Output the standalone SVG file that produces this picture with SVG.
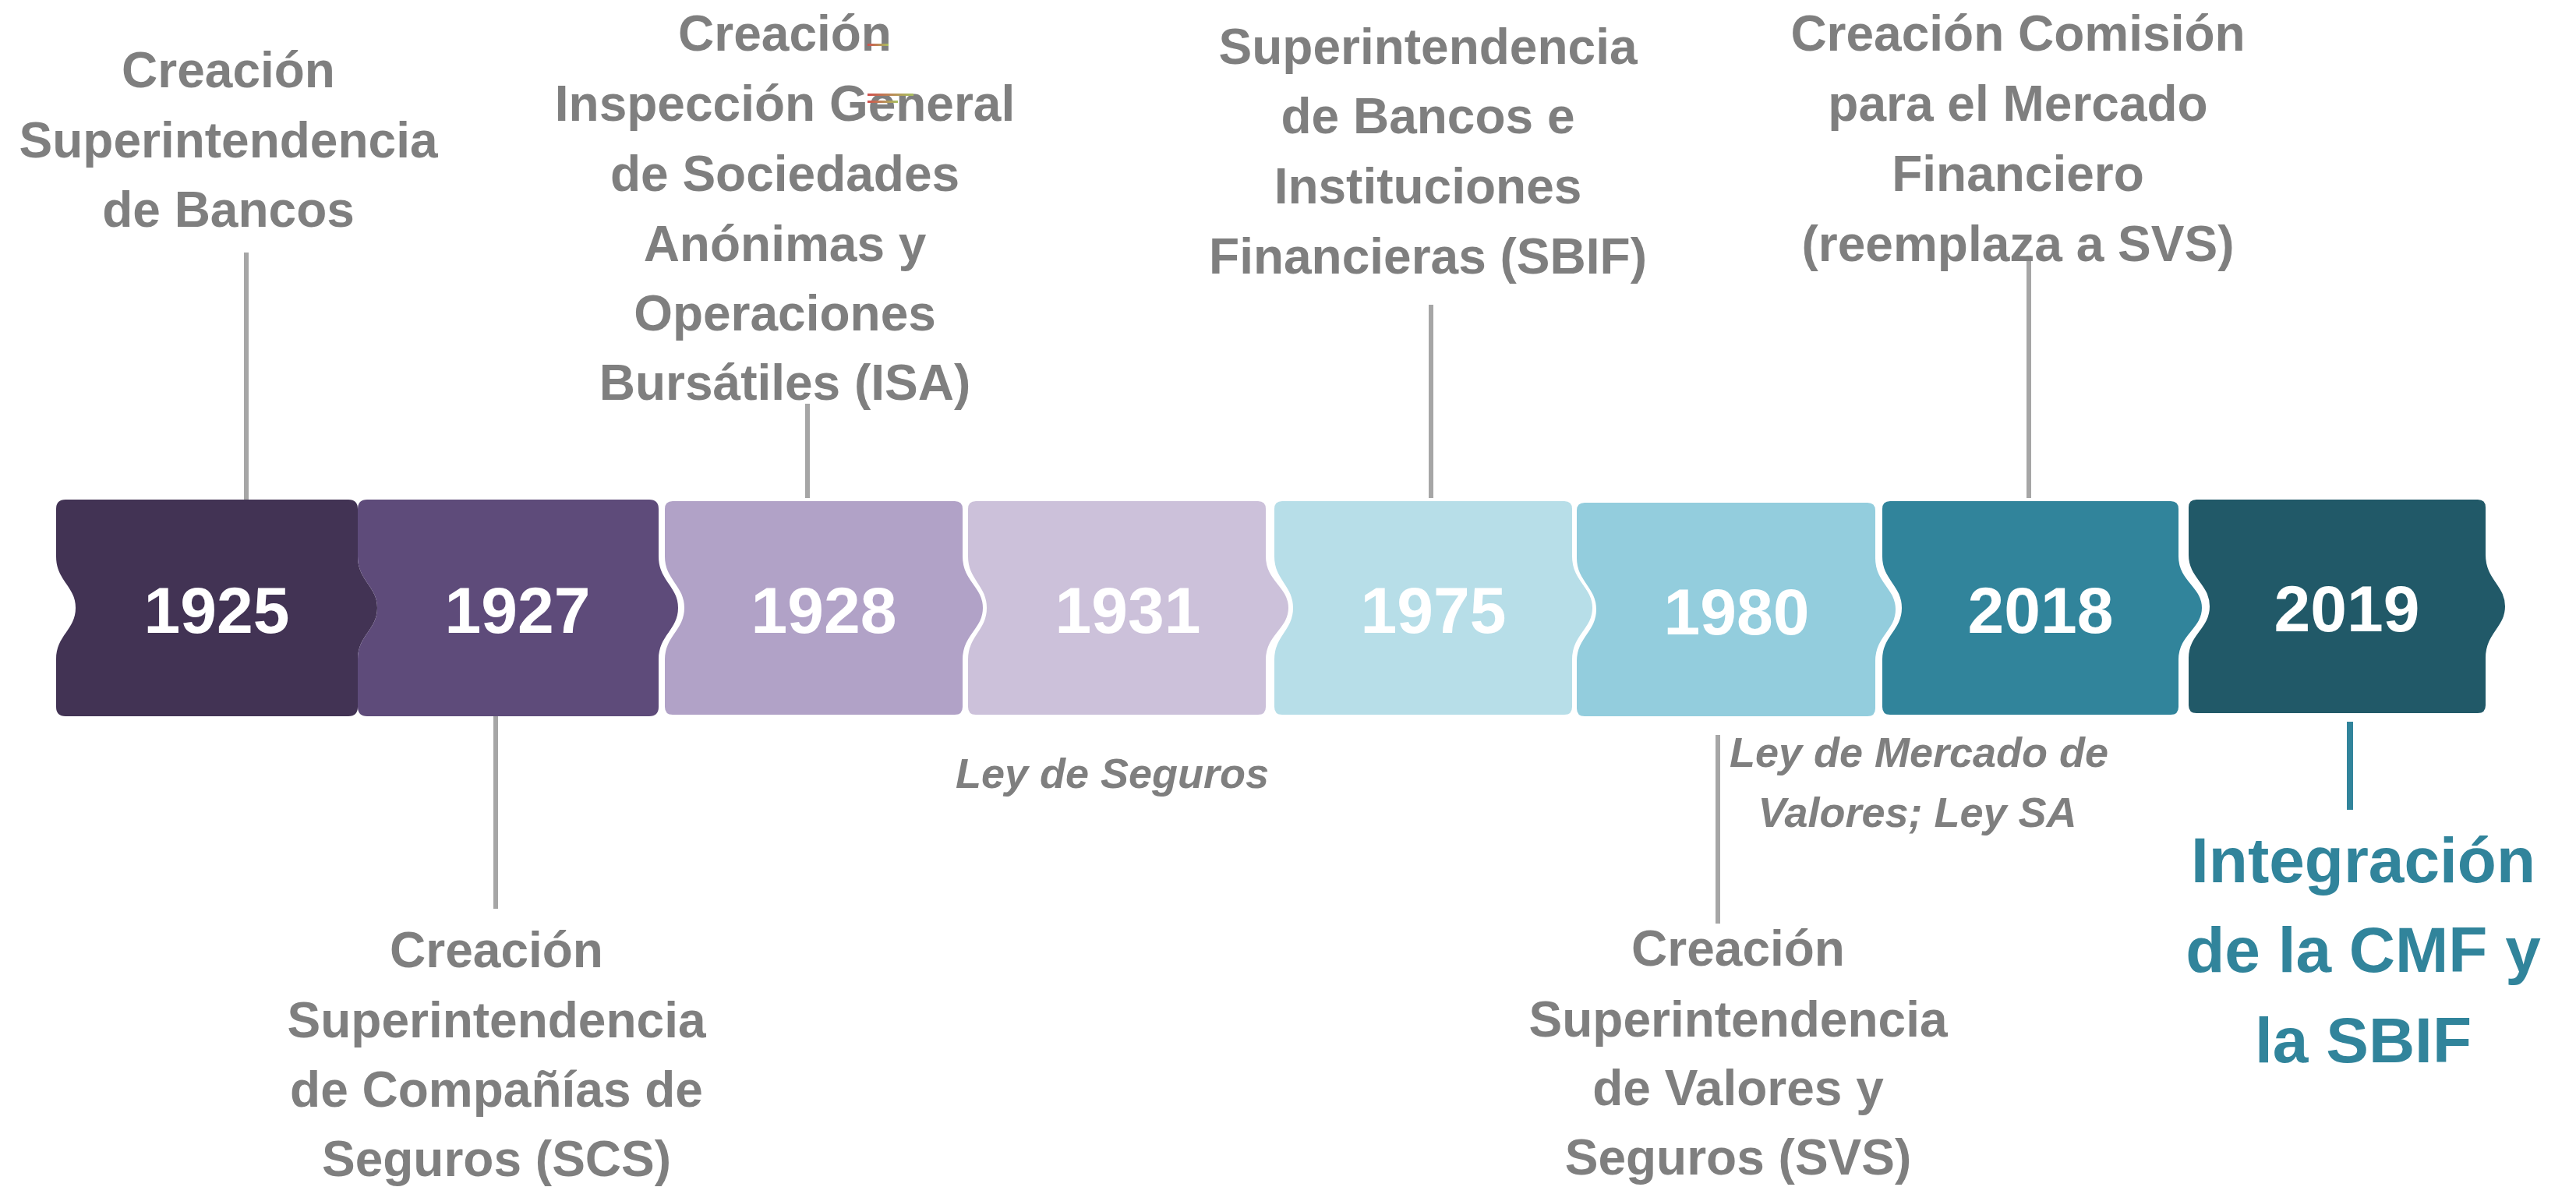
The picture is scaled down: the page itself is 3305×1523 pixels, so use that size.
<svg xmlns="http://www.w3.org/2000/svg" width="3305" height="1523" viewBox="0 0 3305 1523">
<defs>
<style>
.lbl{font-family:"Liberation Sans",Arial,sans-serif;font-weight:bold;font-size:64px;fill:#7F7F7F;text-anchor:middle}
.it{font-family:"Liberation Sans",Arial,sans-serif;font-weight:bold;font-style:italic;font-size:54px;fill:#7F7F7F;text-anchor:middle}
.yr{font-family:"Liberation Sans",Arial,sans-serif;font-weight:bold;font-size:84px;fill:#FFFFFF;text-anchor:middle}
.big{font-family:"Liberation Sans",Arial,sans-serif;font-weight:bold;font-size:82px;fill:#31849B;text-anchor:middle}
.con{stroke:#A6A6A6;stroke-width:6;fill:none}
.box{stroke:#FFFFFF;stroke-width:4}
</style>
<linearGradient id="sq" x1="0" y1="0" x2="1" y2="0">
<stop offset="0" stop-color="#D0504D"/>
<stop offset="1" stop-color="#A8C060"/>
</linearGradient>
</defs>
<rect width="3305" height="1523" fill="#FFFFFF"/>

<g id="connectors">
<line class="con" x1="316" y1="324" x2="316" y2="641"/>
<line class="con" x1="636" y1="919" x2="636" y2="1166"/>
<line class="con" x1="1036" y1="518" x2="1036" y2="641"/>
<line class="con" x1="1836" y1="391" x2="1836" y2="641"/>
<line class="con" x1="2204" y1="943" x2="2204" y2="1185"/>
<line class="con" x1="2603" y1="328" x2="2603" y2="641"/>
<line x1="3015" y1="926" x2="3015" y2="1039" stroke="#31849B" stroke-width="8"/>
</g>

<g id="y1925">
<path fill="#423354" d="M84,641 H447 Q459,641 459,653 V714 C459,745 484,752 484,780 C484,808 459,815 459,846 V907 Q459,919 447,919 H84 Q72,919 72,907 V846 C72,815 97,808 97,780 C97,752 72,745 72,714 V653 Q72,641 84,641 Z"/>
<text class="yr" x="278" y="812">1925</text>
</g>
<g id="y1927">
<path fill="#5E4B7A" d="M471,641 H833 Q845,641 845,653 V714 C845,745 870,752 870,780 C870,808 845,815 845,846 V907 Q845,919 833,919 H471 Q459,919 459,907 V846 C459,815 484,808 484,780 C484,752 459,745 459,714 V653 Q459,641 471,641 Z"/>
<text class="yr" x="664" y="812">1927</text>
</g>
<g id="y1928">
<path class="box" fill="#B1A2C7" d="M863,641 H1225 Q1237,641 1237,653 V714 C1237,745 1263,752 1263,780 C1263,808 1237,815 1237,846 V907 Q1237,919 1225,919 H863 Q851,919 851,907 V846 C851,815 876,808 876,780 C876,752 851,745 851,714 V653 Q851,641 863,641 Z"/>
<text class="yr" x="1057" y="812">1928</text>
</g>
<g id="y1931">
<path class="box" fill="#CCC1DA" d="M1252,641 H1614 Q1626,641 1626,653 V714 C1626,745 1655,752 1655,780 C1655,808 1626,815 1626,846 V907 Q1626,919 1614,919 H1252 Q1240,919 1240,907 V846 C1240,815 1264,808 1264,780 C1264,752 1240,745 1240,714 V653 Q1240,641 1252,641 Z"/>
<text class="yr" x="1447" y="812">1931</text>
</g>
<g id="y1975">
<path class="box" fill="#B7DEE8" d="M1645,641 H2007 Q2019,641 2019,653 V714 C2019,745 2045,752 2045,780 C2045,808 2019,815 2019,846 V907 Q2019,919 2007,919 H1645 Q1633,919 1633,907 V846 C1633,815 1657,808 1657,780 C1657,752 1633,745 1633,714 V653 Q1633,641 1645,641 Z"/>
<text class="yr" x="1839" y="812">1975</text>
</g>
<g id="y1980">
<path class="box" fill="#93CDDD" d="M2033,643 H2396 Q2408,643 2408,655 V716 C2408,747 2434,754 2434,782 C2434,810 2408,817 2408,848 V909 Q2408,921 2396,921 H2033 Q2021,921 2021,909 V848 C2021,817 2046,810 2046,782 C2046,754 2021,747 2021,716 V655 Q2021,643 2033,643 Z"/>
<text class="yr" x="2228" y="814">1980</text>
</g>
<g id="y2018">
<path class="box" fill="#31849B" d="M2425,641 H2785 Q2797,641 2797,653 V714 C2797,745 2827,752 2827,780 C2827,808 2797,815 2797,846 V907 Q2797,919 2785,919 H2425 Q2413,919 2413,907 V846 C2413,815 2438,808 2438,780 C2438,752 2413,745 2413,714 V653 Q2413,641 2425,641 Z"/>
<text class="yr" x="2618" y="812">2018</text>
</g>
<g id="y2019">
<path class="box" fill="#215968" d="M2818,639 H3179 Q3191,639 3191,651 V712 C3191,743 3216,750 3216,778 C3216,806 3191,813 3191,844 V905 Q3191,917 3179,917 H2818 Q2806,917 2806,905 V844 C2806,813 2833,806 2833,778 C2833,750 2806,743 2806,712 V651 Q2806,639 2818,639 Z"/>
<text class="yr" x="3011" y="810">2019</text>
</g>

<g id="label1925">
<text class="lbl" x="293" y="112">Creación</text>
<text class="lbl" x="293" y="202">Superintendencia</text>
<text class="lbl" x="293" y="291">de Bancos</text>
</g>
<g id="label1927">
<text class="lbl" x="637" y="1241">Creación</text>
<text class="lbl" x="637" y="1331">Superintendencia</text>
<text class="lbl" x="637" y="1420">de Compañías de</text>
<text class="lbl" x="637" y="1509">Seguros (SCS)</text>
</g>
<g id="label1928">
<text class="lbl" x="1007" y="65">Creación</text>
<text class="lbl" x="1007" y="155">Inspección General</text>
<text class="lbl" x="1007" y="245">de Sociedades</text>
<text class="lbl" x="1007" y="335">Anónimas y</text>
<text class="lbl" x="1007" y="424">Operaciones</text>
<text class="lbl" x="1007" y="513">Bursátiles (ISA)</text>
<rect x="1113" y="56" width="27" height="3" fill="url(#sq)"/>
<rect x="1113" y="120" width="59" height="3" fill="url(#sq)"/>
<rect x="1113" y="129" width="39" height="3" fill="url(#sq)"/>
</g>
<g id="label1931">
<text class="it" x="1427" y="1011">Ley de Seguros</text>
</g>
<g id="label1975">
<text class="lbl" x="1832" y="82">Superintendencia</text>
<text class="lbl" x="1832" y="171">de Bancos e</text>
<text class="lbl" x="1832" y="261">Instituciones</text>
<text class="lbl" x="1832" y="351">Financieras (SBIF)</text>
</g>
<g id="label1980">
<text class="it" x="2462" y="984">Ley de Mercado de</text>
<text class="it" x="2460" y="1061">Valores; Ley SA</text>
<text class="lbl" x="2230" y="1239">Creación</text>
<text class="lbl" x="2230" y="1330">Superintendencia</text>
<text class="lbl" x="2230" y="1418">de Valores y</text>
<text class="lbl" x="2230" y="1507">Seguros (SVS)</text>
</g>
<g id="label2018">
<text class="lbl" x="2589" y="65">Creación Comisión</text>
<text class="lbl" x="2589" y="155">para el Mercado</text>
<text class="lbl" x="2589" y="245">Financiero</text>
<text class="lbl" x="2589" y="335">(reemplaza a SVS)</text>
</g>
<g id="label2019">
<text class="big" x="3032" y="1132">Integración</text>
<text class="big" x="3032" y="1247">de la CMF y</text>
<text class="big" x="3032" y="1363">la SBIF</text>
</g>
</svg>
